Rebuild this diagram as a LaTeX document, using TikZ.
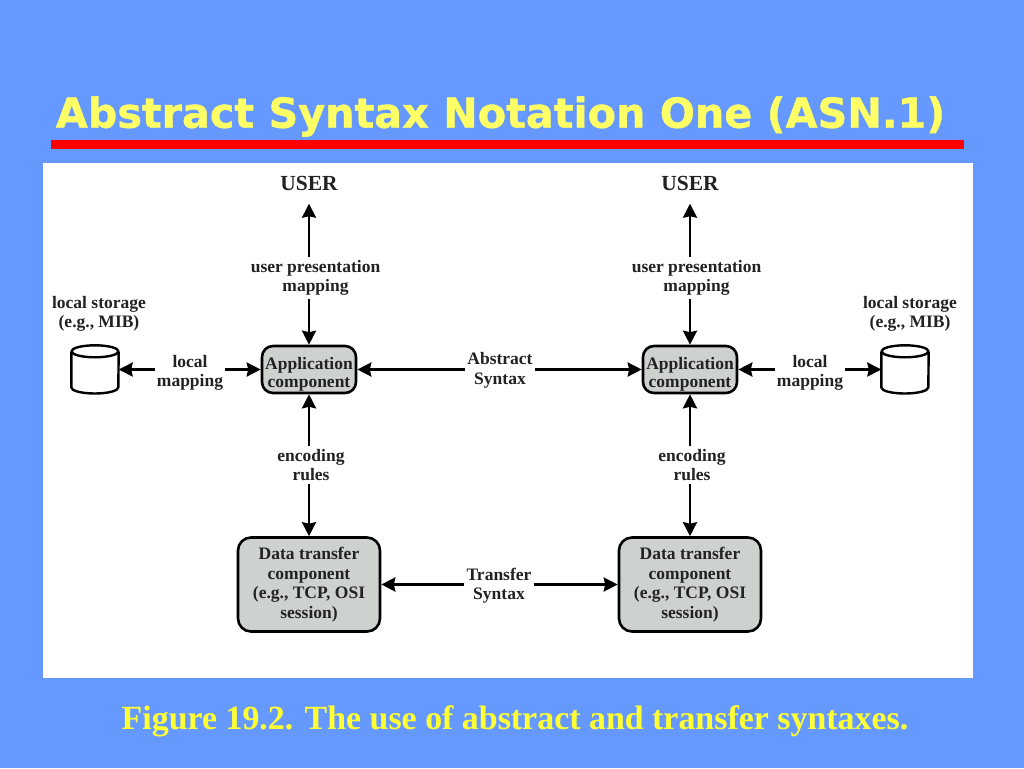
\documentclass[tikz,border=0pt]{standalone}
\usepackage{fontspec}
\setmainfont{Liberation Serif}
\newfontfamily\titlefont[BoldFeatures={FakeBold=1}]{DejaVu Sans}
\usetikzlibrary{arrows.meta,calc}
\definecolor{bgblue}{HTML}{6699FF}
\definecolor{slideyellow}{HTML}{FFFF66}
\definecolor{captionyellow}{HTML}{FFFF33}
\definecolor{boxgray}{HTML}{CDD2CE}
\definecolor{inkdark}{HTML}{222222}
\tikzset{
  x=1pt,y=-1pt,
  lab/.style={font=\fontsize{17.5}{19.5}\selectfont\bfseries,text=inkdark,align=center,inner xsep=2pt,inner ysep=3pt},
  userlab/.style={font=\fontsize{21.5}{24}\selectfont\bfseries,text=inkdark,inner xsep=2pt,inner ysep=6pt,minimum height=41pt},
  appbox/.style={draw=black,line width=2.6pt,fill=boxgray,rounded corners=11pt,minimum width=94pt,minimum height=47pt,inner sep=0pt,align=center,font=\fontsize{17.5}{18.5}\selectfont\bfseries,text=inkdark},
  databox/.style={draw=black,line width=2.6pt,fill=boxgray,rounded corners=13pt,minimum width=142pt,minimum height=94pt,inner sep=0pt,align=center,font=\fontsize{17.5}{19.5}\selectfont\bfseries,text=inkdark},
  store/.style={minimum width=47pt,minimum height=48pt,inner sep=0pt},
  storeline/.style={draw=black,line width=2.4pt,fill=white,line join=round},
  conn/.style={line width=2.6pt,-{Stealth[length=14pt,width=14pt,inset=1.5pt]}},
}
\begin{document}
\begin{tikzpicture}
\useasboundingbox (0,0) rectangle (1024,768);
\fill[bgblue] (0,0) rectangle (1024,768);
\node[font=\titlefont\fontsize{41.3}{44}\selectfont\bfseries,text=slideyellow,inner sep=0pt,anchor=center] (title) at (500.5,116.5) {Abstract Syntax Notation One (ASN.1)};
\fill[red] (51,140) rectangle (964,149);
\fill[white] (43,163) rectangle (973,678);
\node[font=\fontsize{33.9}{36}\selectfont\bfseries,text=captionyellow,inner sep=0pt] (caption) at (515,721) {Figure 19.2. The use of abstract and transfer syntaxes.};

\node[userlab] (u1) at (309,183) {USER};
\node[userlab] (u2) at (690,183) {USER};
\node[lab] (p1) at (315.5,278) {user presentation\\mapping};
\node[lab] (p2) at (696.5,278) {user presentation\\mapping};
\node[appbox] (a1) at (309,369.5) {\rule{0pt}{22pt}Application\\component};
\node[appbox] (a2) at (690,369.5) {\rule{0pt}{22pt}Application\\component};
\node[lab] (e1) at (311,465) {encoding\\rules};
\node[lab] (e2) at (692,465) {encoding\\rules};
\node[databox] (d1) at (309,584.5) {Data transfer\\component\\(e.g., TCP, OSI\\session)};
\node[databox] (d2) at (690,584.5) {Data transfer\\component\\(e.g., TCP, OSI\\session)};
\node[store] (c1) at (95,369.5) {};
\node[store] (c2) at (905,369.5) {};
\foreach \c in {c1,c2}{
  \draw[storeline] ($(\c.west)+(0,-18)$) -- ($(\c.west)+(0,18)$)
     arc[start angle=180,end angle=360,x radius=23.5pt,y radius=6pt]
     -- ($(\c.east)+(0,-18)$);
  \draw[storeline] ($(\c.north)+(0,6)$) ellipse[x radius=23.5pt,y radius=6pt];
}
\node[lab] (s1) at (99,314) {local storage\\(e.g., MIB)};
\node[lab] (s2) at (910,314) {local storage\\(e.g., MIB)};
\node[lab] (m1) at (190,373) {local\\mapping};
\node[lab] (m2) at (810,373) {local\\mapping};
\node[lab] (abs) at (500,370.5) {Abstract\\Syntax};
\node[lab] (tr) at (499,585.5) {Transfer\\Syntax};

\draw[conn] (p1.north -| u1) -- (u1);
\draw[conn] (p2.north -| u2) -- (u2);
\draw[conn] (p1.south -| a1) -- (a1);
\draw[conn] (p2.south -| a2) -- (a2);
\draw[conn] (e1.north -| a1) -- (a1);
\draw[conn] (e2.north -| a2) -- (a2);
\draw[conn] (e1.south -| d1) -- (d1);
\draw[conn] (e2.south -| d2) -- (d2);
\draw[conn] (m1.west |- c1) -- (c1);
\draw[conn] (m1.east |- a1) -- (a1);
\draw[conn] (m2.west |- a2) -- (a2);
\draw[conn] (m2.east |- c2) -- (c2);
\draw[conn] (abs.west |- a1) -- (a1);
\draw[conn] (abs.east |- a2) -- (a2);
\draw[conn] (tr.west |- d1) -- (d1);
\draw[conn] (tr.east |- d2) -- (d2);
\end{tikzpicture}
\end{document}
